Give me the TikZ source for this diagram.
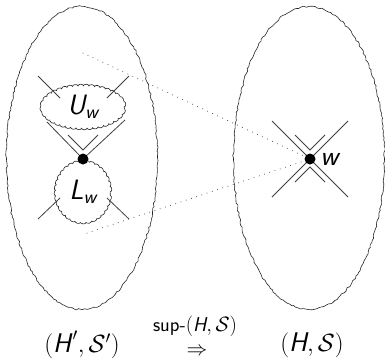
\documentclass[tikz,border=0pt]{standalone}
\usepackage{amsmath}
\usetikzlibrary{decorations.pathmorphing,shapes.geometric,positioning}
\newcommand{\vs}[1]{\textsf{\itshape #1}}

\begin{document}
\begin{tikzpicture}[x=1pt, y=-1pt, line width=0.6pt,
rough/.style={draw=black!85, decorate, decoration={random steps, segment length=2.5pt, amplitude=0.8pt}},
region/.style={rough, ellipse, minimum width=151pt, minimum height=303pt, inner sep=0pt},
blob/.style={draw=black!85, ellipse, inner sep=0pt, decorate, decoration={bumps, mirror, segment length=11pt, amplitude=1.8pt}, font=\fontsize{28}{30}\selectfont},
vtx/.style={circle, fill=black, inner sep=0pt, minimum size=11pt},
edge/.style={draw=black!75, line width=0.8pt},
link/.style={draw=black!75, line width=1pt, line cap=round, dash pattern=on 0pt off 5.5pt},
pair/.style={font=\fontsize{27}{30}\selectfont}]
\useasboundingbox (0,0) rectangle (385,362);
% the two hypergraphs
\node[region] (Hp) at (82,158) {};
\node[region] (H) at (309,158) {};
% left side: the two parts glued at the vertex
\node[blob, minimum width=82pt, minimum height=42pt] (Uw) at (83,107) {$\vs{U}_{\vs{w}}$};
\node[blob, minimum width=54pt, minimum height=60pt] (Lw) at (83,192) {$\vs{L}_{\vs{w}}$};
\node[vtx] (vl) at (83,159) {};
\coordinate (ua) at (38,76); \coordinate (ub) at (129,76);
\coordinate (ea) at (60,98); \coordinate (eb) at (107,98);
\coordinate (uc) at (47,122); \coordinate (ud) at (125,120);
\coordinate (ia) at (68,135); \coordinate (ib) at (98,135); \coordinate (ic) at (83,150);
\coordinate (la) at (38,219); \coordinate (lb) at (129,219);
\coordinate (lc) at (60,198); \coordinate (ld) at (107,198);
\draw[edge] (ua)--(ea); \draw[edge] (ub)--(eb);
\draw[edge] (uc)--(vl); \draw[edge] (ud)--(vl);
\draw[edge] (ia)--(ic)--(ib);
\draw[edge] (lc)--(la); \draw[edge] (ld)--(lb);
% right side: the vertex w
\coordinate (xa) at (272,121); \coordinate (xb) at (348,197);
\coordinate (xc) at (348,121); \coordinate (xd) at (272,197);
\draw[edge] (xa)--(xb); \draw[edge] (xc)--(xd);
\draw[edge] (295,135)--(310,150)--(325,135);
\draw[edge] (295,182)--(310,167)--(325,182);
\node[vtx] (w) at (310,159) {};
\node[right=1pt of w, font=\fontsize{28}{30}\selectfont] (wl) {$\vs{w}$};
% correspondence
\coordinate (ta) at (83,53); \coordinate (tb) at (87,233);
\draw[link] (ta)--(w); \draw[link] (tb)--(w);
% labels
\node[pair] (lp) at (82,345) {$(\vs{H\/}',\mathcal{S}')$};
\node[pair] (lh) at (312,345) {$(\vs{H},\mathcal{S})$};
\node[font=\fontsize{20}{22}\selectfont, inner sep=0pt] (sup) at (195,326) {\textsf{sup-}$(\vs{H},\mathcal{S})$};
\node[font=\fontsize{20}{22}\selectfont, inner sep=0pt] (ar) at (197,352) {$\Rightarrow$};
\end{tikzpicture}
\end{document}
